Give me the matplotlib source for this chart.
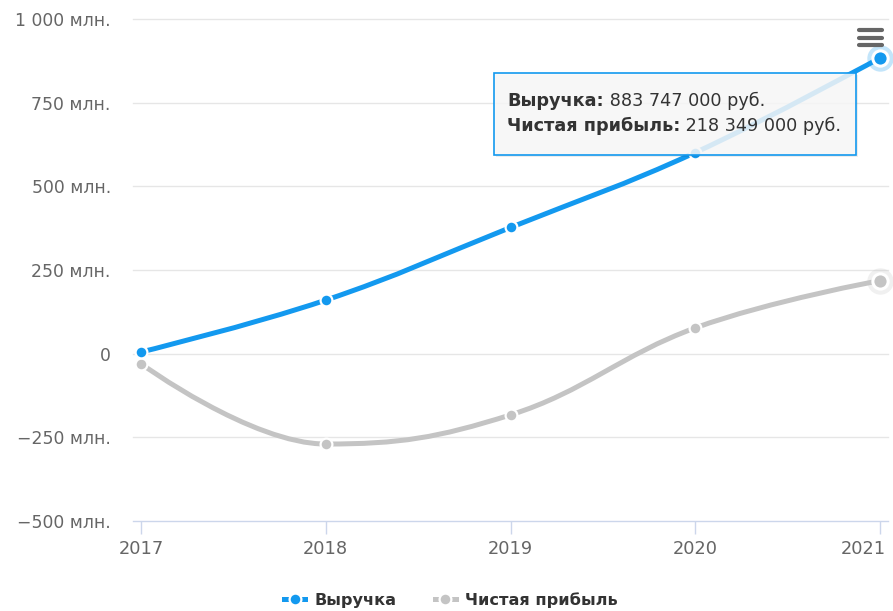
import numpy as np
import matplotlib
matplotlib.use("Agg")
import matplotlib.pyplot as plt
import matplotlib.transforms as mtransforms
from matplotlib.path import Path
from matplotlib.patches import PathPatch, FancyBboxPatch
from matplotlib.lines import Line2D

plt.rcParams['font.family'] = ['DejaVu Sans']

years = [2017, 2018, 2019, 2020, 2021]
revenue = [5, 160, 377, 601, 883.747]        # млн руб.
net_profit = [-30, -270, -183, 77, 218.349]  # млн руб.

y_ticks = [-500, -250, 0, 250, 500, 750, 1000]
y_labels = ["\u2212500 млн.", "\u2212250 млн.", "0", "250 млн.",
            "500 млн.", "750 млн.", "1 000 млн."]

tooltip_rows = [("Выручка:", " 883 747 000 руб."),
                ("Чистая прибыль:", " 218 349 000 руб.")]

BLUE = "#1399ef"
GRAY = "#c4c4c4"


def spline_path(xs, ys, smoothing=1.5):
    # bezier spline through the points (same construction as Highcharts "spline")
    n = len(xs)
    denom = smoothing + 1
    right = [None] * n
    left = [None] * n
    for i in range(1, n - 1):
        px, py = xs[i], ys[i]
        lx, ly = xs[i - 1], ys[i - 1]
        nx, ny = xs[i + 1], ys[i + 1]
        lcx = (smoothing * px + lx) / denom
        lcy = (smoothing * py + ly) / denom
        rcx = (smoothing * px + nx) / denom
        rcy = (smoothing * py + ny) / denom
        corr = 0
        if rcx != lcx:
            corr = (rcy - lcy) * (rcx - px) / (rcx - lcx) + py - rcy
        lcy += corr
        rcy += corr
        if lcy > ly and lcy > py:
            lcy = max(ly, py)
            rcy = 2 * py - lcy
        elif lcy < ly and lcy < py:
            lcy = min(ly, py)
            rcy = 2 * py - lcy
        if rcy > ny and rcy > py:
            rcy = max(ny, py)
            lcy = 2 * py - rcy
        elif rcy < ny and rcy < py:
            rcy = min(ny, py)
            lcy = 2 * py - rcy
        left[i] = (lcx, lcy)
        right[i] = (rcx, rcy)
    verts = [(xs[0], ys[0])]
    codes = [Path.MOVETO]
    for i in range(1, n):
        c1 = right[i - 1] or (xs[i - 1], ys[i - 1])
        c2 = left[i] or (xs[i], ys[i])
        verts += [c1, c2, (xs[i], ys[i])]
        codes += [Path.CURVE4] * 3
    return Path(verts, codes)


fig = plt.figure(figsize=(8.93, 6.11), dpi=100)
ax = fig.add_axes([133 / 893, 1 - 521 / 611, 755 / 893, 502 / 611])

pad = 0.043
ax.set_xlim(years[0] - pad, years[-1] + pad)
ax.set_ylim(-500, 1000)

for s in ax.spines.values():
    s.set_visible(False)
ax.axhline(-500, color="#ccd6eb", lw=1, zorder=1, clip_on=False)
for v in y_ticks[1:]:
    ax.axhline(v, color="#e6e6e6", lw=1, zorder=0, clip_on=False)

ax.set_yticks(y_ticks)
ax.set_yticklabels(y_labels)
ax.set_xticks(years)
ax.set_xticklabels([str(y) for y in years])
ax.tick_params(axis="y", length=0, pad=16, labelsize=12.4, labelcolor="#666666")
ax.tick_params(axis="x", length=9, width=1, color="#ccd6eb", pad=5,
               labelsize=12.8, labelcolor="#666666")
# keep the last year label inside the figure
last = ax.get_xticklabels()[-1]
last.set_horizontalalignment("right")
last.set_transform(last.get_transform() +
                   mtransforms.ScaledTranslation(6 / 100, 0, fig.dpi_scale_trans))

for vals, col, z in [(net_profit, GRAY, 3), (revenue, BLUE, 4)]:
    path = spline_path(years, vals)
    ax.add_patch(PathPatch(path, fill=False, edgecolor=col, lw=3.6,
                           capstyle="round", joinstyle="round", zorder=z))
    ax.plot(years[:-1], vals[:-1], "o", ms=8.5, color=col, mec="white",
            mew=1.6, zorder=z + 0.5, clip_on=False)
    # hovered point
    ax.plot(years[-1], vals[-1], "o", ms=19, color=col, alpha=0.25, mew=0,
            zorder=z + 0.4, clip_on=False)
    ax.plot(years[-1], vals[-1], "o", ms=11, color=col, mec="white",
            mew=2.2, zorder=z + 0.6, clip_on=False)

# tooltip
x0, y0, x1, y1 = 494 / 893, 1 - 155 / 611, 856 / 893, 1 - 73 / 611
shadow = FancyBboxPatch((x0 + 1.5 / 893, y0 - 1.5 / 611), x1 - x0, y1 - y0,
                        boxstyle="square,pad=0", transform=fig.transFigure,
                        facecolor="black", alpha=0.07, edgecolor="none", zorder=9)
box = FancyBboxPatch((x0, y0), x1 - x0, y1 - y0, boxstyle="square,pad=0",
                     transform=fig.transFigure, facecolor=(0.975, 0.975, 0.975, 0.85),
                     edgecolor=BLUE, lw=1.2, zorder=10)
fig.patches.extend([shadow, box])

renderer = fig.canvas.get_renderer()
ty = [1 - 106 / 611, 1 - 131 / 611]
for (label, value), yy in zip(tooltip_rows, ty):
    t = fig.text(507 / 893, yy, label, fontsize=12.7, fontweight="bold",
                 color="#333333", va="baseline", zorder=11)
    w = t.get_window_extent(renderer).width / 893
    fig.text(507 / 893 + w, yy, value, fontsize=12.7, color="#333333",
             va="baseline", zorder=11)

# context menu icon
for yy in [30, 38, 45]:
    fig.add_artist(Line2D([859 / 893, 882 / 893], [1 - yy / 611] * 2,
                          color="#666666", lw=3, solid_capstyle="round"))

handles = [Line2D([], [], color=BLUE, lw=3.6, marker="o", ms=8.5, mec="white", mew=1.6),
           Line2D([], [], color=GRAY, lw=3.6, marker="o", ms=8.5, mec="white", mew=1.6)]
leg = fig.legend(handles, ["Выручка", "Чистая прибыль"], loc="center",
                 bbox_to_anchor=(0.505, 1 - 600 / 611), ncol=2, frameon=False,
                 handlelength=1.3, columnspacing=2.4, handletextpad=0.55,
                 prop={"weight": "bold", "size": 11.6})
for t in leg.get_texts():
    t.set_color("#333333")

fig.savefig("out.png", dpi=100)
